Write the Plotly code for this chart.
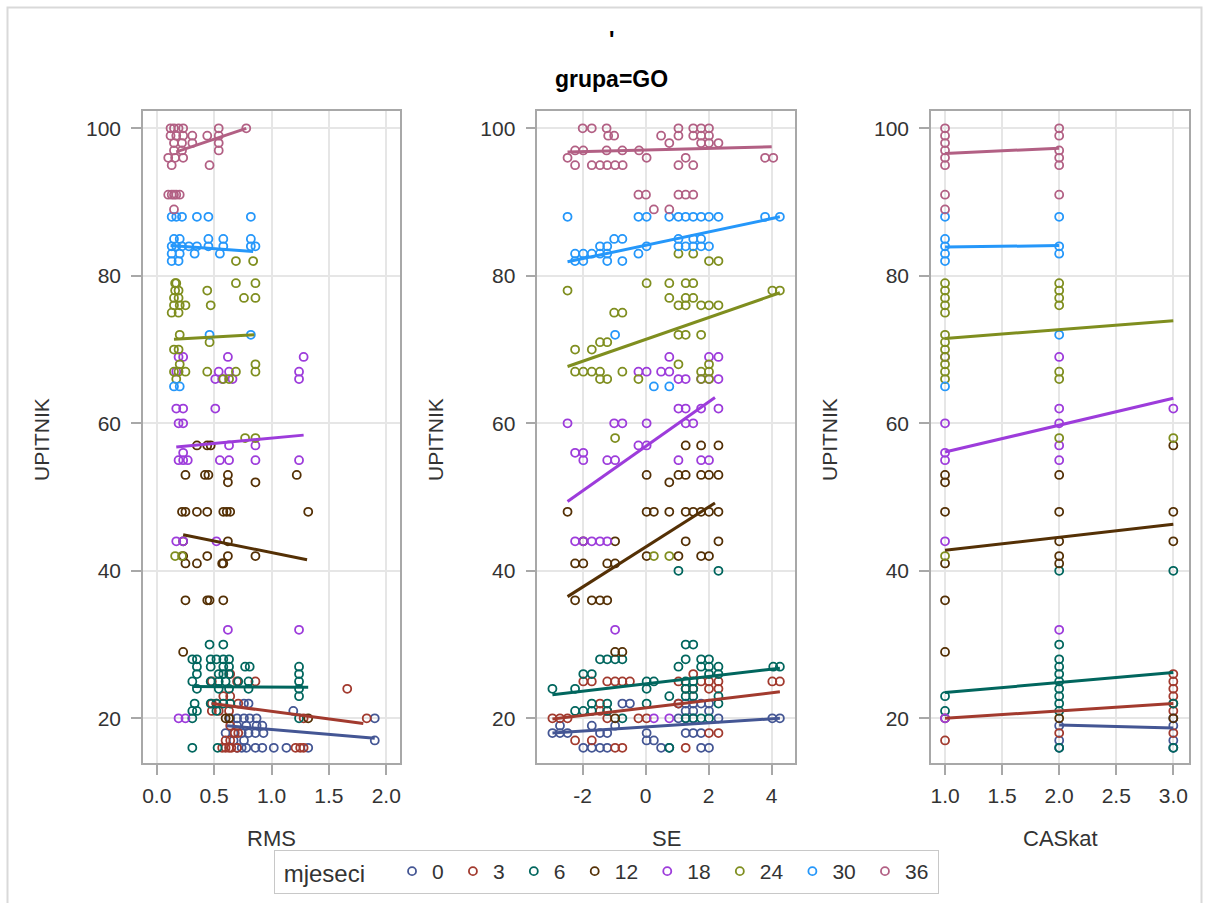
import plotly.graph_objects as go

W, H = 1209, 903
GROUPS = ["0", "3", "6", "12", "18", "24", "30", "36"]
COLORS = ["#445694", "#A23A2E", "#01665E", "#543005", "#9D3CDB", "#7F8E1F", "#2597FA", "#B26084"]

# ---------------- RMS panel: UPITNIK -> RMS values ----------------
rms_m0 = {22: [0.76, 0.80], 21: [1.19], 20: [0.64, 0.70, 0.76, 0.81, 0.87, 1.90],
          19: [0.70, 0.78, 0.87, 0.92], 18: [0.60, 0.67, 0.74, 0.80, 0.86, 0.93],
          17: [0.67, 0.76, 1.90], 16: [0.70, 0.74, 0.78, 0.86, 0.92, 1.02, 1.13, 1.32]}
rms_m3 = {26: [0.64], 25: [0.48, 0.70, 0.86], 24: [1.66], 23: [0.58, 0.64],
          22: [0.48, 0.52, 0.71], 21: [0.48, 0.54, 0.63], 20: [1.28, 1.83], 19: [0.64],
          18: [0.68, 0.71], 17: [0.60, 0.64], 16: [0.57, 0.60, 0.63, 0.65, 0.70, 1.21, 1.25, 1.28]}
rms_m6 = {30: [0.46, 0.58], 28: [0.31, 0.35, 0.47, 0.52, 0.58, 0.63],
          27: [0.35, 0.47, 0.58, 0.63, 0.77, 0.81, 1.24], 26: [0.35, 0.54, 0.58, 0.63, 1.24],
          25: [0.31, 0.47, 0.54, 0.60, 0.71, 0.80, 1.24], 24: [0.35, 0.54, 0.63, 0.80, 1.24],
          23: [1.24], 22: [0.33, 0.47, 0.52, 0.58, 0.64], 21: [0.31, 0.35, 0.52],
          20: [0.31, 1.24], 16: [0.31, 0.53]}
rms_m12 = {57: [0.35, 0.44, 0.47], 53: [0.25, 0.42, 0.45, 0.62, 1.22], 52: [0.62, 0.86],
           48: [0.22, 0.25, 0.35, 0.44, 0.58, 0.61, 0.64, 1.32], 44: [0.23, 0.62],
           42: [0.23, 0.44, 0.62, 0.86], 41: [0.25, 0.35, 0.57, 0.58],
           36: [0.25, 0.44, 0.46, 0.58], 29: [0.23], 20: [0.60, 0.63, 1.32]}
rms_m18 = {69: [0.19, 0.23, 0.62, 1.28], 67: [0.17, 0.54, 0.63, 1.24], 66: [0.51, 0.57, 0.66, 1.24],
           62: [0.17, 0.23, 0.51], 60: [0.19, 0.23], 57: [0.63, 0.86], 56: [0.23],
           55: [0.19, 0.23, 0.27, 0.55, 0.63, 0.86, 1.24], 44: [0.17, 0.23, 0.52],
           32: [0.62, 1.24], 20: [0.19, 0.25]}
rms_m24 = {82: [0.69, 0.84], 79: [0.16, 0.17, 0.69, 0.86], 78: [0.16, 0.19, 0.44],
           77: [0.15, 0.19, 0.76, 0.86], 76: [0.15, 0.20, 0.25, 0.47], 75: [0.13, 0.19],
           72: [0.20], 71: [0.46], 70: [0.15, 0.19], 68: [0.20, 0.86],
           67: [0.15, 0.19, 0.25, 0.44, 0.69, 0.86], 66: [0.17, 0.58, 0.63], 58: [0.77, 0.86],
           42: [0.16, 0.22]}
rms_m30 = {88: [0.13, 0.17, 0.22, 0.35, 0.45, 0.82], 85: [0.15, 0.20, 0.45, 0.58, 0.82],
           84: [0.13, 0.17, 0.22, 0.28, 0.35, 0.45, 0.58, 0.82, 0.86], 83: [0.13, 0.20, 0.33, 0.55],
           82: [0.13, 0.19], 72: [0.46, 0.82], 65: [0.15, 0.20]}
rms_m36 = {100: [0.12, 0.15, 0.19, 0.23, 0.54, 0.78], 99: [0.12, 0.17, 0.23, 0.31, 0.44, 0.54],
           98: [0.15, 0.22, 0.31, 0.54], 97: [0.15, 0.22, 0.54], 96: [0.10, 0.16, 0.23],
           95: [0.13, 0.46], 91: [0.10, 0.13, 0.15, 0.17, 0.20], 89: [0.15]}
rms_fit_x = [[0.61, 1.90], [0.48, 1.80], [0.31, 1.32], [0.23, 1.31], [0.17, 1.28], [0.15, 0.85], [0.12, 0.84], [0.17, 0.78]]
rms_fit_y = [[19.0, 17.3], [22.0, 19.3], [24.3, 24.2], [44.9, 41.5], [56.8, 58.4], [71.4, 72.0], [84.1, 83.3], [96.8, 100.0]]

# ---------------- SE panel: UPITNIK -> SE values ----------------
se_m0 = {22: [-0.74, -0.5, 1.04, 1.27, 1.51, 1.76, 2.01], 21: [1.27, 1.51, 2.01],
         20: [1.04, 1.27, 1.51, 2.31, 4.02, 4.26], 19: [-2.72, -1.71, -0.97],
         18: [-2.96, -2.72, -2.48, -1.45, -1.22, 0.03, 1.27, 1.51, 1.76], 17: [0.03, 0.26],
         16: [-1.98, -1.71, -1.45, -1.22, 0.49, 0.75, 1.76, 2.01]}
se_m3 = {26: [1.51], 25: [-1.98, -1.71, -1.22, -0.97, -0.74, -0.5, 1.04, 1.76, 2.01, 2.31, 4.02, 4.26],
         24: [1.27, 1.51, 2.01, 2.31], 22: [-1.45, 1.04], 21: [-1.45, -1.22],
         20: [-2.96, -2.72, -2.48, -1.22, -0.23, 0.03], 18: [2.01, 2.31], 17: [-2.24, -1.71],
         16: [-0.97, -0.74, 1.27]}
se_m6 = {40: [1.04, 2.31], 30: [1.27, 1.51], 28: [-1.45, -1.22, -0.97, -0.74, 1.27, 1.76, 2.01],
         27: [1.04, 1.76, 2.01, 2.31, 4.05, 4.26], 26: [-1.98, -1.71, 2.01, 2.31],
         25: [0.03, 0.26, 1.27, 1.51], 24: [-2.96, -2.24, 0.03, 1.27, 1.51],
         23: [0.75, 1.27, 1.51, 2.31], 22: [-1.71, -1.22, 0.03, 2.31], 21: [-2.24, -1.98, -1.71, -1.22],
         20: [-0.74, 1.27, 1.51, 1.76, 2.01], 16: [0.75]}
se_m12 = {57: [1.27, 1.76, 2.31], 53: [0.03, 1.04, 1.27, 1.76, 2.01, 2.31], 52: [0.75],
          48: [-2.48, 0.03, 0.26, 0.75, 1.27, 1.51, 1.76, 2.01, 2.31], 44: [-1.98, -0.97, 1.27, 2.31],
          42: [0.03, 1.04, 1.76, 2.01], 41: [-2.24, -1.98, -1.22, -0.97],
          36: [-2.24, -1.71, -1.45, -1.22], 29: [-0.97, -0.74], 20: [-0.97]}
se_m18 = {69: [0.75, 2.01, 2.31], 67: [-0.23, 0.03, 0.49, 0.75], 66: [1.04, 1.27, 1.76, 2.01, 2.31],
          62: [1.04, 1.27, 1.76, 2.31], 60: [-2.48, -1.0, -0.74, 0.03, 1.27, 1.51], 57: [-0.23, 0.03],
          56: [-2.24, -1.98], 55: [-1.98, -1.22, -0.97, 1.04, 1.76, 2.01],
          44: [-2.24, -1.98, -1.71, -1.45, -1.22], 32: [-0.97], 20: [0.26, 0.75]}
se_m24 = {83: [1.04, 1.51], 82: [2.01, 2.31], 79: [0.03, 0.75, 1.27, 1.51], 78: [-2.48, 4.02, 4.26],
          77: [0.75, 1.27, 1.51], 76: [1.04, 1.27, 1.76, 2.01, 2.31], 75: [-1.0, -0.74],
          72: [1.04, 1.27, 1.76], 71: [-1.45, -1.22], 70: [-2.24, -1.71], 68: [1.04, 2.01],
          67: [-2.24, -1.98, -1.71, -1.45, -0.74, 1.76, 2.01], 66: [-1.45, -1.22, -0.23, 1.76, 2.01],
          58: [-0.97], 42: [0.26, 0.75]}
se_m30 = {88: [-2.48, -0.23, 0.03, 0.75, 1.04, 1.27, 1.51, 1.76, 2.01, 2.31, 3.79, 4.26],
          85: [-1.0, -0.74, 1.04, 1.51, 1.76], 84: [-1.45, -1.22, 0.03, 1.04, 1.27, 1.51, 1.76, 2.01],
          83: [-2.24, -1.98, -1.71, -1.45, -1.22, -0.23], 82: [-2.24, -1.98, -1.22, -0.74],
          72: [-0.97], 65: [0.26, 0.75]}
se_m36 = {100: [-2.0, -1.71, -1.24, 1.04, 1.51, 1.76, 2.01], 99: [-1.19, -1.0, 0.49, 1.04, 1.51, 1.76, 2.01],
          98: [0.75, 1.76, 2.01, 2.31], 97: [-2.24, -1.98, -1.24, -0.74, -0.21],
          96: [-2.48, 0.03, 1.27, 3.79, 4.05], 95: [-2.24, -1.71, -1.45, -1.22, -0.97, -0.73, 1.04, 1.51],
          91: [-0.23, 0.01, 1.04, 1.27, 1.51], 89: [0.26, 0.75]}
se_fit_x = [[-2.96, 4.26], [-2.96, 4.26], [-2.96, 4.26], [-2.48, 2.20], [-2.48, 2.20], [-2.48, 4.26], [-2.48, 4.26], [-2.48, 4.0]]
se_fit_y = [[18.0, 20.0], [19.9, 23.6], [23.2, 26.8], [36.5, 49.2], [49.4, 63.5], [67.7, 77.7], [81.9, 88.0], [96.8, 97.5]]

# ---------------- CASkat panel: CASkat -> UPITNIK values ----------------
cas_m0 = {2: [19, 17, 16], 3: [20, 19, 17, 16]}
cas_m3 = {1: [20, 17], 2: [18], 3: [26, 25, 24, 23, 22, 21, 18]}
cas_m6 = {1: [23, 21], 2: [40, 30, 28, 27, 26, 25, 24, 23, 22, 21, 16], 3: [40, 22, 16]}
cas_m12 = {1: [53, 52, 48, 41, 36, 29], 2: [53, 48, 44, 42, 41, 20], 3: [57, 48, 44, 20]}
cas_m18 = {1: [69, 60, 56, 55, 44, 20], 2: [69, 62, 60, 57, 55, 32], 3: [62]}
cas_m24 = {1: [79, 78, 77, 76, 75, 72, 71, 70, 69, 68, 67, 66, 42], 2: [79, 78, 77, 76, 67, 66, 58], 3: [58]}
cas_m30 = {1: [88, 85, 84, 83, 82, 65], 2: [88, 84, 83, 72]}
cas_m36 = {1: [100, 99, 98, 97, 96, 95, 91, 89], 2: [100, 99, 97, 96, 95, 91]}
cas_fit_x = [[2, 3], [1, 3], [1, 3], [1, 3], [1, 3], [1, 3], [1, 2], [1, 2]]
cas_fit_y = [[19.1, 18.7], [20.0, 22.0], [23.5, 26.2], [42.8, 46.3], [56.1, 63.4], [71.5, 73.9], [83.9, 84.1], [96.6, 97.3]]

RMS_SETS = [rms_m0, rms_m3, rms_m6, rms_m12, rms_m18, rms_m24, rms_m30, rms_m36]
SE_SETS = [se_m0, se_m3, se_m6, se_m12, se_m18, se_m24, se_m30, se_m36]
CAS_SETS = [cas_m0, cas_m3, cas_m6, cas_m12, cas_m18, cas_m24, cas_m30, cas_m36]

Y_TICKS = [20, 40, 60, 80, 100]
RMS_TICKS = [0.0, 0.5, 1.0, 1.5, 2.0]
SE_TICKS = [-2, 0, 2, 4]
SE_TICKTEXT = ["-2", "0", "2", "4"]
CAS_TICKS = [1.0, 1.5, 2.0, 2.5, 3.0]


def rows_y_to_xy(d):
    xs, ys = [], []
    for yv, xl in d.items():
        for xv in xl:
            xs.append(xv)
            ys.append(yv)
    return xs, ys


def rows_x_to_xy(d):
    xs, ys = [], []
    for xv, yl in d.items():
        for yv in yl:
            xs.append(xv)
            ys.append(yv)
    return xs, ys


def px(x):
    return x / W


def py(y):
    return 1 - y / H


FONT = "Liberation Sans, Arial, sans-serif"
fig = go.Figure()

panels = [("x", "y", RMS_SETS, rows_y_to_xy, rms_fit_x, rms_fit_y),
          ("x2", "y2", SE_SETS, rows_y_to_xy, se_fit_x, se_fit_y),
          ("x3", "y3", CAS_SETS, rows_x_to_xy, cas_fit_x, cas_fit_y)]

for pi, (xa, ya, sets, conv, fx, fy) in enumerate(panels):
    for gi, g in enumerate(GROUPS):
        xs, ys = conv(sets[gi])
        fig.add_trace(go.Scatter(
            x=xs, y=ys, xaxis=xa, yaxis=ya, mode="markers", name=g + "\u2009",
            legendgroup=g, showlegend=(pi == 0),
            marker=dict(symbol="circle-open", size=8, color=COLORS[gi], line=dict(width=1.8, color=COLORS[gi])),
        ))
    for gi, g in enumerate(GROUPS):
        fig.add_trace(go.Scatter(
            x=fx[gi], y=fy[gi], xaxis=xa, yaxis=ya, mode="lines", legendgroup=g,
            showlegend=False, line=dict(color=COLORS[gi], width=3),
        ))

axis_common = dict(
    showline=True, linecolor="#A8A8A8", linewidth=1.5, mirror=True,
    ticks="outside", ticklen=10, tickcolor="#A8A8A8", tickwidth=1.5,
    showgrid=True, gridcolor="#E6E6E6", gridwidth=1.5, zeroline=False,
    tickfont=dict(family=FONT, size=21, color="#333333"),
)

x_domains = [[px(143), px(400)], [px(537.3), px(795)], [px(931), px(1189.3)]]
y_domain = [py(763.3), py(111)]

fig.update_layout(
    xaxis=dict(domain=x_domains[0], range=[-0.12, 2.12], tickvals=RMS_TICKS, tickformat=".1f", anchor="y",
               ticklabelstandoff=3, **axis_common),
    xaxis2=dict(domain=x_domains[1], range=[-3.44, 4.74], tickvals=SE_TICKS, ticktext=SE_TICKTEXT, anchor="y2",
                ticklabelstandoff=3, **axis_common),
    xaxis3=dict(domain=x_domains[2], range=[0.877, 3.14], tickvals=CAS_TICKS, tickformat=".1f", anchor="y3",
                ticklabelstandoff=3, **axis_common),
    yaxis=dict(domain=y_domain, range=[13.9, 102.35], tickvals=Y_TICKS, anchor="x", ticklabelstandoff=6, **axis_common),
    yaxis2=dict(domain=y_domain, range=[13.9, 102.35], tickvals=Y_TICKS, anchor="x2", ticklabelstandoff=6, **axis_common),
    yaxis3=dict(domain=y_domain, range=[13.9, 102.35], tickvals=Y_TICKS, anchor="x3", ticklabelstandoff=6, **axis_common),
)

annotations = []
annotations.append(dict(text="<b>'</b>", x=px(611), y=py(40), xref="paper", yref="paper",
                        xanchor="center", yanchor="middle",
                        showarrow=False, font=dict(family=FONT, size=23, color="#000000")))
annotations.append(dict(text="<b>grupa=GO</b>", x=px(611), y=py(79), xref="paper", yref="paper",
                        xanchor="center", yanchor="middle",
                        showarrow=False, font=dict(family=FONT, size=23, color="#000000")))
for cx, label in [(271.5, "RMS"), (666, "SE"), (1060, "CASkat")]:
    annotations.append(dict(text=label, x=px(cx), y=py(838), xref="paper", yref="paper",
                            xanchor="center", yanchor="middle",
                            showarrow=False, font=dict(family=FONT, size=22, color="#333333")))
for cx in [41, 435, 829]:
    annotations.append(dict(text="UPITNIK", x=px(cx), y=py(440), xref="paper", yref="paper",
                            xanchor="center", yanchor="middle",
                            textangle=-90, showarrow=False, font=dict(family=FONT, size=21, color="#333333")))

fig.update_layout(
    width=W, height=H,
    margin=dict(l=0, r=0, t=0, b=0, autoexpand=False),
    paper_bgcolor="white", plot_bgcolor="white",
    annotations=annotations,
    showlegend=True,
    legend=dict(
        orientation="h", x=px(606.5), xanchor="center", y=py(872), yanchor="middle",
        bordercolor="#C8C8C8", borderwidth=1, bgcolor="white",
        font=dict(family=FONT, size=21, color="#333333"),
        title=dict(text="\u00a0mjeseci\u00a0\u00a0\u00a0", side="left", font=dict(family=FONT, size=24, color="#333333")),
        itemwidth=30, tracegroupgap=0,
    ),
    shapes=[dict(type="path", xref="paper", yref="paper",
                 path=f"M {px(7.5)},0 L {px(7.5)},{py(7.5)} L {px(1201.5)},{py(7.5)} L {px(1201.5)},0",
                 line=dict(color="#D9D9D9", width=2))],
)

fig.write_html("out.html", config={"displayModeBar": False},
               post_script="document.body.style.margin='0px';document.body.style.overflow='hidden';")
